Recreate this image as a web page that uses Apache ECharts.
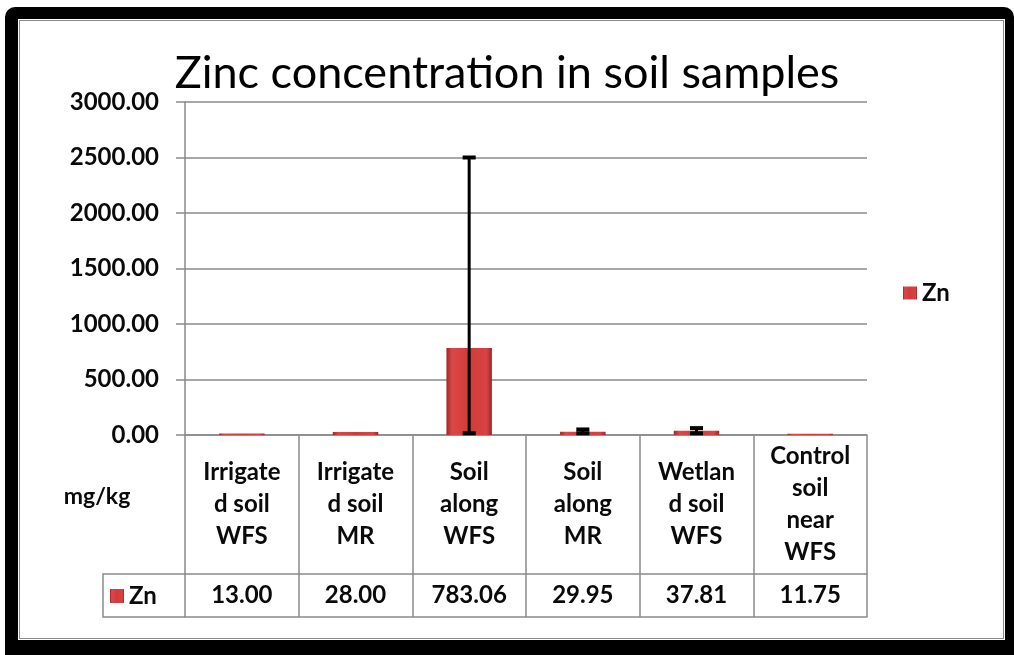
<!DOCTYPE html>
<html><head><meta charset="utf-8">
<script src="https://cdn.jsdelivr.net/npm/echarts@6/dist/echarts.min.js"></script>
<style>
html,body{margin:0;padding:0;background:#fff}
#wrap{position:relative;width:1014px;height:655px;background:#fff;overflow:hidden}
#outer{position:absolute;left:5px;top:7px;width:1009px;height:648px;background:#000;border-radius:10px 10px 0 0}
#inner{position:absolute;left:18px;top:19px;width:987px;height:621px;background:#fff}
#line{position:absolute;left:19px;top:20px;width:985px;height:619px;border:1px solid #8a8a8a;box-sizing:border-box}
#c{position:absolute;left:0;top:0;width:1014px;height:655px}
</style>
</head><body>
<div id="wrap"><div id="outer"></div><div id="inner"></div><div id="line"></div><div id="c"></div></div>
<script>
// ---- data ----
const categories = ['Irrigate\nd soil\nWFS', 'Irrigate\nd soil\nMR', 'Soil\nalong\nWFS', 'Soil\nalong\nMR', 'Wetlan\nd soil\nWFS', 'Control\nsoil\nnear\nWFS'];
const znValues = [13.00, 28.00, 783.06, 29.95, 37.81, 11.75];
const errLow  = [null, null, 15, 15, 15, null];
const errHigh = [null, null, 2500, 50, 62, null];
const seriesName = 'Zn';
const unitLabel = 'mg/kg';
const titleText = 'Zinc concentration in soil samples';
const yMin = 0, yMax = 3000, yStep = 500;

// ---- style ----
const FONT = 'Lato';
const GRID = '#8a8a8a';
const TXT = '#0a0a0a';
const ROW1 = 139, ROW2 = 43;

const barGradient = new echarts.graphic.LinearGradient(0, 0, 1, 0, [
  {offset: 0, color: '#a32424'},
  {offset: 0.12, color: '#d94848'},
  {offset: 0.5, color: '#d23a3a'},
  {offset: 0.88, color: '#d64444'},
  {offset: 1, color: '#a32424'}
]);

const errData = znValues.map((v, i) => [i, errLow[i], errHigh[i]]).filter(d => d[1] != null && d[2] != null);

const chart = echarts.init(document.getElementById('c'), null, {renderer: 'canvas'});
const lineStyle = {color: GRID, width: 1.5};
const labelFont = {fontFamily: FONT, fontWeight: 'bold', fontSize: 24, color: TXT};

chart.setOption({
  animation: false,
  backgroundColor: 'transparent',
  title: {
    text: titleText, left: 'center', top: 46,
    textStyle: {fontFamily: FONT, fontWeight: 'normal', fontSize: 45, color: '#000'}
  },
  legend: [
    {data: [seriesName], left: 903, top: 281, padding: 0, icon: 'rect', itemWidth: 14, itemHeight: 13,
     textStyle: Object.assign({}, labelFont)},
    {data: [seriesName], left: 110, top: 584, padding: 0, icon: 'rect', itemWidth: 14, itemHeight: 14,
     textStyle: Object.assign({}, labelFont)}
  ],
  grid: {left: 185, right: 147, top: 102, bottom: 220, containLabel: false},
  graphic: [
    {type: 'polyline', shape: {points: [[185, 435 + ROW1], [103, 435 + ROW1], [103, 435 + ROW1 + ROW2], [185, 435 + ROW1 + ROW2]]},
     style: {stroke: GRID, lineWidth: 1.5, fill: null}},
    {type: 'text', x: 97, y: 497, style: {text: unitLabel, fontFamily: FONT, fontWeight: 'bold', fontSize: 23, fill: TXT, align: 'center', verticalAlign: 'middle'}}
  ],
  yAxis: {
    type: 'value', min: yMin, max: yMax, interval: yStep,
    axisLine: {show: true, lineStyle},
    axisTick: {show: true, length: 9, lineStyle},
    splitLine: {show: true, lineStyle},
    axisLabel: Object.assign({formatter: v => v.toFixed(2), margin: 26}, labelFont)
  },
  xAxis: [
    {type: 'category', data: categories, position: 'bottom',
     axisLine: {lineStyle}, axisTick: {show: true, length: ROW1, interval: 0, lineStyle},
     axisLabel: Object.assign({interval: 0, margin: ROW1 / 2, verticalAlign: 'middle', lineHeight: 32}, labelFont)},
    {type: 'category', data: categories, position: 'bottom', offset: ROW1,
     axisLine: {lineStyle}, axisTick: {show: true, length: ROW2, interval: 0, lineStyle},
     axisLabel: Object.assign({interval: 0, margin: ROW2 / 2, verticalAlign: 'middle',
       formatter: (v, i) => znValues[i].toFixed(2)}, labelFont)},
    {type: 'category', data: categories, position: 'bottom', offset: ROW1 + ROW2,
     axisLine: {lineStyle}, axisTick: {show: false}, axisLabel: {show: false}}
  ],
  series: [
    {type: 'bar', name: seriesName, data: znValues, barWidth: '40%', xAxisIndex: 0, yAxisIndex: 0,
     itemStyle: {color: barGradient}},
    {type: 'custom', name: 'error', xAxisIndex: 0, yAxisIndex: 0, data: errData, z: 10,
     encode: {x: 0, y: [1, 2]},
     renderItem: function (params, api) {
       const i = api.value(0);
       const lo = api.coord([i, api.value(1)]);
       const hi = api.coord([i, api.value(2)]);
       const w = api.size([1, 0])[0] * 0.115;
       const st = {stroke: '#000', lineWidth: 3};
       const cap = {stroke: '#000', lineWidth: 4};
       return {type: 'group', children: [
         {type: 'line', shape: {x1: hi[0], y1: hi[1], x2: lo[0], y2: lo[1]}, style: st},
         {type: 'line', shape: {x1: hi[0] - w / 2, y1: hi[1], x2: hi[0] + w / 2, y2: hi[1]}, style: cap},
         {type: 'line', shape: {x1: lo[0] - w / 2, y1: lo[1], x2: lo[0] + w / 2, y2: lo[1]}, style: cap}
       ]};
     }}
  ]
});
</script>
</body></html>
